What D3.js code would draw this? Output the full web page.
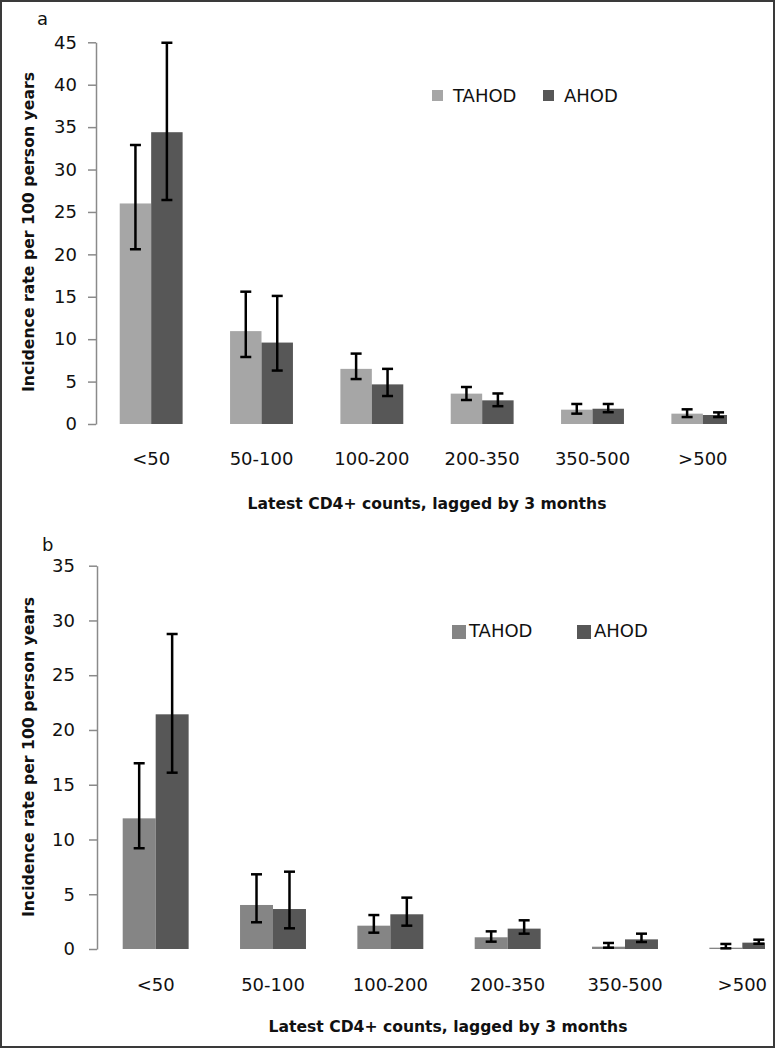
<!DOCTYPE html>
<html><head><meta charset="utf-8">
<script src="https://cdn.jsdelivr.net/npm/d3@7"></script>
<style>
html,body{margin:0;padding:0;background:#fff;}
svg{display:block;font-family:"DejaVu Sans",sans-serif;}
</style></head>
<body><svg id="c" width="778" height="1050"></svg>
<script>
const categories = ["<50","50-100","100-200","200-350","350-500",">500"];
const seriesNames = ["TAHOD","AHOD"];
// Panel a
const aTAHOD = [26.0, 10.95, 6.5, 3.58, 1.69, 1.22];
const aTAHODlo = [20.6, 7.9, 5.3, 2.83, 1.22, 0.82];
const aTAHODhi = [32.9, 15.6, 8.3, 4.36, 2.36, 1.73];
const aAHOD = [34.4, 9.6, 4.67, 2.79, 1.8, 1.06];
const aAHODlo = [26.4, 6.3, 3.3, 2.1, 1.39, 0.82];
const aAHODhi = [44.95, 15.1, 6.5, 3.6, 2.36, 1.37];
const aTicks = [0,5,10,15,20,25,30,35,40,45];
// Panel b
const bTAHOD = [11.93, 4.02, 2.13, 1.07, 0.21, 0.12];
const bTAHODlo = [9.2, 2.44, 1.49, 0.67, 0.12, 0.06];
const bTAHODhi = [16.96, 6.82, 3.1, 1.61, 0.55, 0.46];
const bAHOD = [21.43, 3.65, 3.17, 1.86, 0.88, 0.58];
const bAHODlo = [16.1, 1.89, 2.13, 1.4, 0.64, 0.48];
const bAHODhi = [28.77, 7.06, 4.69, 2.62, 1.4, 0.85];
const bTicks = [0,5,10,15,20,25,30,35];

const yTitle = "Incidence rate per 100 person years";
const xTitle = "Latest CD4+ counts, lagged by 3 months";

const svg = d3.select("#c");
svg.append("rect").attr("x",1).attr("y",1).attr("width",773).attr("height",1046)
  .attr("fill","none").attr("stroke","#3a3a3a").attr("stroke-width",2);

function panel(o){
  const g = svg.append("g");
  const y = d3.scaleLinear().domain([0,o.max]).range([o.y0,o.yTop]);
  const x0 = d3.scaleBand().domain(categories).range([o.axisX,o.xEnd])
    .paddingInner(o.pin).paddingOuter(o.pin/2);
  const x1 = d3.scaleBand().domain(seriesNames).range([0,x0.bandwidth()]);
  const color = d3.scaleOrdinal().domain(seriesNames).range(o.colors);
  const clipId = "clip"+o.id;
  svg.append("clipPath").attr("id",clipId).append("rect")
    .attr("x",0).attr("y",o.yTop-20).attr("width",o.clipX).attr("height",o.y0-o.yTop+40);

  // y axis
  const ya = g.append("g").attr("transform",`translate(${o.axisX},0)`)
    .call(d3.axisLeft(y).tickValues(o.ticks).tickSize(8).tickSizeOuter(0).tickPadding(o.tpad));
  ya.select(".domain").attr("stroke","#8a8a8a").attr("stroke-width",1.5);
  ya.selectAll(".tick line").attr("stroke","#8a8a8a").attr("stroke-width",1.5);
  ya.selectAll("text").attr("font-size",18).attr("fill","#111")
    .attr("font-family","DejaVu Sans, sans-serif");

  const data = categories.map((c,i)=>({c, vals:o.series.map((s,k)=>({
    name:seriesNames[k], v:s.v[i], lo:s.lo[i], hi:s.hi[i]}))}));

  const bars = g.append("g").attr("clip-path",`url(#${clipId})`);
  const grp = bars.selectAll("g.grp").data(data).join("g")
    .attr("transform",d=>`translate(${x0(d.c)},0)`);
  grp.selectAll("rect").data(d=>d.vals).join("rect")
    .attr("x",d=>x1(d.name)).attr("width",x1.bandwidth())
    .attr("y",d=>y(d.v)).attr("height",d=>y(0)-y(d.v))
    .attr("fill",d=>color(d.name));

  // x axis
  const xa = g.append("g").attr("transform",`translate(0,${o.y0})`)
    .call(d3.axisBottom(x0).tickSize(0).tickSizeOuter(0).tickPadding(o.xpad));
  xa.select(".domain").attr("stroke","#8a8a8a").attr("stroke-width",1.5)
    .attr("clip-path",`url(#${clipId})`);
  xa.selectAll("text").attr("font-size",18).attr("fill","#111")
    .attr("font-family","DejaVu Sans, sans-serif");

  // error bars
  const eb = grp.selectAll("g.eb").data(d=>d.vals).join("g").attr("class","eb");
  const cx = d=>x1(d.name)+x1.bandwidth()/2;
  eb.append("line").attr("x1",cx).attr("x2",cx).attr("y1",d=>y(d.lo)).attr("y2",d=>y(d.hi))
    .attr("stroke","#000").attr("stroke-width",2.5);
  eb.append("line").attr("x1",d=>cx(d)-5.5).attr("x2",d=>cx(d)+5.5).attr("y1",d=>y(d.hi)).attr("y2",d=>y(d.hi))
    .attr("stroke","#000").attr("stroke-width",2.5);
  eb.append("line").attr("x1",d=>cx(d)-5.5).attr("x2",d=>cx(d)+5.5).attr("y1",d=>y(d.lo)).attr("y2",d=>y(d.lo))
    .attr("stroke","#000").attr("stroke-width",2.5);

  // titles
  g.append("text").attr("transform",`translate(${o.ytX},${o.ytY}) rotate(-90)`)
    .attr("text-anchor","middle").attr("font-weight","bold").attr("font-size",15.7)
    .attr("fill","#111").text(yTitle);
  g.append("text").attr("x",o.xtX).attr("y",o.xtY).attr("text-anchor","middle")
    .attr("font-weight","bold").attr("font-size",15.6).attr("fill","#111").text(xTitle);
  g.append("text").attr("x",o.lx).attr("y",o.ly).attr("font-size",18).attr("fill","#111").text(o.letter);

  // legend
  const lg = g.append("g");
  seriesNames.forEach((s,k)=>{
    const L = o.legend[k];
    lg.append("rect").attr("x",L.sx).attr("y",L.sy).attr("width",L.ss).attr("height",L.ss).attr("fill",color(s));
    lg.append("text").attr("x",L.tx).attr("y",L.ty).attr("font-size",18).attr("fill","#111").text(s);
  });
}

panel({id:"a", max:45, y0:424, yTop:42.3, axisX:96, xEnd:758, clipX:727, pin:0.43,
  ticks:aTicks, tpad:11, xpad:28, colors:["#a6a6a6","#575757"],
  series:[{v:aTAHOD,lo:aTAHODlo,hi:aTAHODhi},{v:aAHOD,lo:aAHODlo,hi:aAHODhi}],
  ytX:34, ytY:232, xtX:427, xtY:509, lx:37, ly:25, letter:"a",
  legend:[{sx:432,sy:90,ss:11,tx:453,ty:102},{sx:543,sy:90,ss:11,tx:564,ty:102}]});

panel({id:"b", max:35, y0:949, yTop:565.7, axisX:97, xEnd:801, clipX:765, pin:0.438,
  ticks:bTicks, tpad:14, xpad:29, colors:["#858585","#575757"],
  series:[{v:bTAHOD,lo:bTAHODlo,hi:bTAHODhi},{v:bAHOD,lo:bAHODlo,hi:bAHODhi}],
  ytX:34, ytY:757, xtX:448, xtY:1032, lx:42, ly:551, letter:"b",
  legend:[{sx:452,sy:625,ss:14,tx:469,ty:637},{sx:577,sy:625,ss:14,tx:594,ty:637}]});
</script>
</body></html>
